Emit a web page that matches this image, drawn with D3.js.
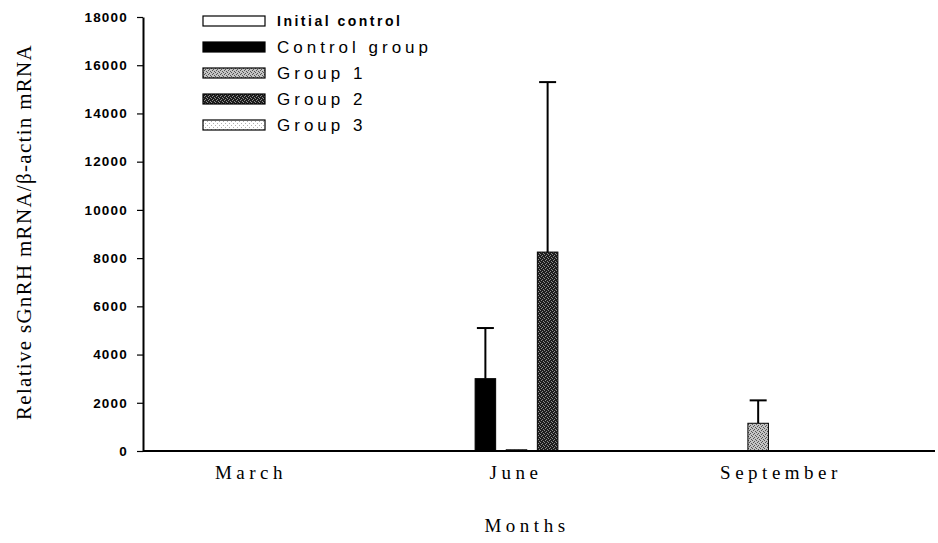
<!DOCTYPE html>
<html>
<head>
<meta charset="utf-8">
<script src="https://cdn.jsdelivr.net/npm/d3@7"></script>
<style>
  body { margin: 0; background: #fff; }
</style>
</head>
<body>
<div id="chart"></div>
<script>
// Data
const months = ['March', 'June', 'September'];
const groups = ['Initial control', 'Control group', 'Group 1', 'Group 2', 'Group 3'];
// mean values, one array per group (March, June, September)
const initialControl = [20, 0, 0];
const controlGroup = [0, 3000, 20];
const group1 = [0, 50, 1150];
const group2 = [0, 8250, 0];
const group3 = [0, 0, 0];
// upper error (SE) per group
const errInitial = [0, 0, 0];
const errControl = [0, 2100, 0];
const errGroup1 = [0, 0, 950];
const errGroup2 = [0, 7050, 0];
const errGroup3 = [0, 0, 0];
const yTicks = [0, 2000, 4000, 6000, 8000, 10000, 12000, 14000, 16000, 18000];

const values = [initialControl, controlGroup, group1, group2, group3];
const errors = [errInitial, errControl, errGroup1, errGroup2, errGroup3];

const W = 938, H = 543;
const serif = 'Liberation Serif, Times New Roman, serif';
const sans = 'Liberation Sans, Arial, sans-serif';

const svg = d3.select('#chart').append('svg')
  .attr('width', W).attr('height', H);

// fill patterns imitating the scanned hatching
const defs = svg.append('defs');
function stipple(id, bg, fg, cells) {
  const p = defs.append('pattern')
    .attr('id', id).attr('patternUnits', 'userSpaceOnUse')
    .attr('width', 4).attr('height', 4);
  p.append('rect').attr('width', 4).attr('height', 4).attr('fill', bg);
  cells.forEach(([cx, cy]) => {
    p.append('rect').attr('x', cx).attr('y', cy)
      .attr('width', 1).attr('height', 1).attr('fill', fg);
  });
}
stipple('g1', '#c4c4c4', '#555', [[0, 0], [2, 1], [1, 2], [3, 3]]);
stipple('g2', '#1e1e1e', '#8c8c8c', [[1, 0], [3, 1], [0, 2], [2, 3]]);
stipple('g3', '#ffffff', '#b0b0b0', [[0, 1], [2, 3]]);

const fills = ['#ffffff', '#000000', 'url(#g1)', 'url(#g2)', 'url(#g3)'];

// scales
const y = d3.scaleLinear().domain([0, 18000]).range([451, 17]);
const x = d3.scaleBand().domain(months).range([154, 879]).padding(0);
const xInner = d3.scaleBand().domain(groups).range([0, 145]).paddingInner(0.34).paddingOuter(0);
const xLabel = d3.scalePoint().domain(months).range([251, 781]);

// bars
months.forEach((m, mi) => {
  const cx = x(m) + x.bandwidth() / 2 - 145 / 2;
  groups.forEach((g, gi) => {
    const v = values[gi][mi];
    if (v <= 0) return;
    const bx = cx + xInner(g);
    svg.append('rect')
      .attr('x', bx).attr('y', y(v))
      .attr('width', xInner.bandwidth())
      .attr('height', y(0) - y(v))
      .attr('fill', fills[gi])
      .attr('stroke', '#000').attr('stroke-width', 1);
    const e = errors[gi][mi];
    if (e > 0) {
      const mx = bx + xInner.bandwidth() / 2;
      svg.append('line')
        .attr('x1', mx).attr('x2', mx)
        .attr('y1', y(v)).attr('y2', y(v + e))
        .attr('stroke', '#000').attr('stroke-width', 2);
      svg.append('line')
        .attr('x1', mx - 8.5).attr('x2', mx + 8.5)
        .attr('y1', y(v + e)).attr('y2', y(v + e))
        .attr('stroke', '#000').attr('stroke-width', 2);
    }
  });
});

// y axis
const yAxis = svg.append('g')
  .attr('transform', 'translate(143,0)')
  .call(d3.axisLeft(y).tickValues(yTicks).tickFormat(d3.format('d'))
    .tickSize(6).tickPadding(9).tickSizeOuter(0));
yAxis.select('.domain').attr('stroke-width', 2);
yAxis.selectAll('.tick line').attr('stroke-width', 1.2);
yAxis.selectAll('.tick text')
  .attr('font-family', sans)
  .attr('font-weight', 'bold')
  .attr('font-size', 13.5)
  .attr('letter-spacing', 1.2)
  .attr('fill', '#000');

// x axis line
svg.append('line')
  .attr('x1', 143).attr('x2', 935)
  .attr('y1', y(0)).attr('y2', y(0))
  .attr('stroke', '#000').attr('stroke-width', 2);

// month labels
svg.append('g').selectAll('text')
  .data(months).join('text')
  .attr('x', d => xLabel(d))
  .attr('y', 479)
  .attr('text-anchor', 'middle')
  .attr('font-family', serif)
  .attr('font-size', 19)
  .attr('letter-spacing', 4.5)
  .text(d => d);

// axis titles
svg.append('text')
  .attr('x', 527).attr('y', 532)
  .attr('text-anchor', 'middle')
  .attr('font-family', serif)
  .attr('font-size', 19)
  .attr('letter-spacing', 4.5)
  .text('Months');

svg.append('text')
  .attr('transform', 'translate(31,232) rotate(-90)')
  .attr('text-anchor', 'middle')
  .attr('font-family', serif)
  .attr('font-size', 21)
  .attr('letter-spacing', 1.3)
  .text('Relative sGnRH mRNA/β-actin mRNA');

// legend
const legend = svg.append('g').attr('transform', 'translate(203,0)');
const legY = d3.scalePoint().domain(groups).range([21, 125]);
groups.forEach((g, i) => {
  const ly = legY(g);
  legend.append('rect')
    .attr('x', 0).attr('y', ly - 5)
    .attr('width', 62).attr('height', 10)
    .attr('fill', fills[i])
    .attr('stroke', '#000').attr('stroke-width', 1.2);
  const t = legend.append('text')
    .attr('x', 74)
    .attr('font-family', sans)
    .text(g);
  if (i === 0) {
    t.attr('y', ly + 5).attr('font-size', 14).attr('font-weight', 'bold').attr('letter-spacing', 2.5);
  } else {
    t.attr('y', ly + 6).attr('font-size', 17).attr('letter-spacing', 4);
  }
});
</script>
</body>
</html>
